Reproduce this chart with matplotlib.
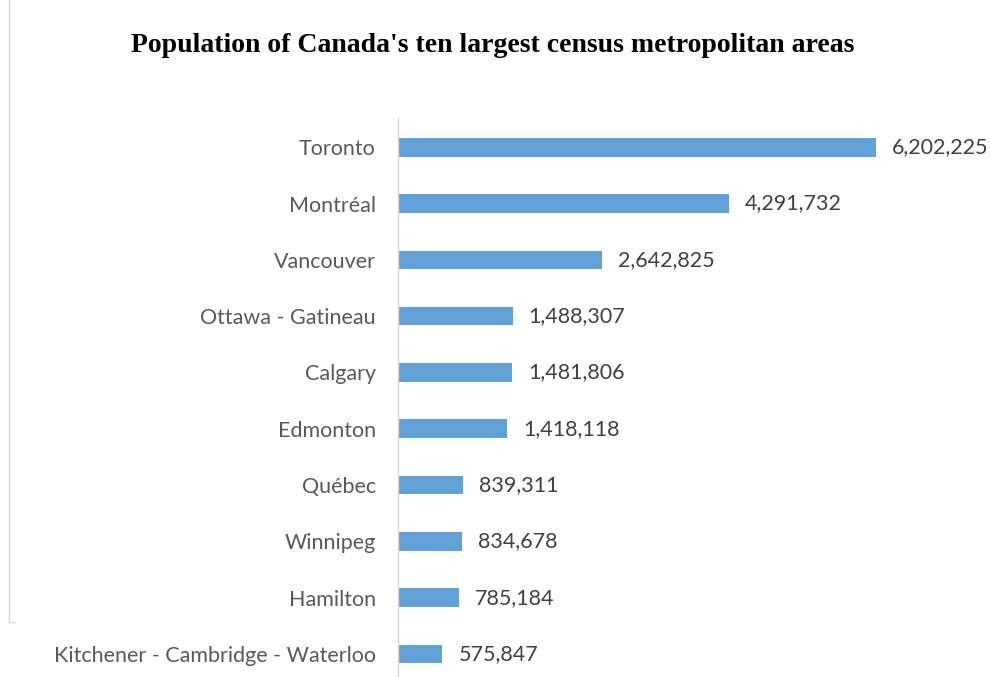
import matplotlib.pyplot as plt
from matplotlib.lines import Line2D

# data
cities = ["Toronto", "Montréal", "Vancouver", "Ottawa - Gatineau", "Calgary",
          "Edmonton", "Québec", "Winnipeg", "Hamilton",
          "Kitchener - Cambridge - Waterloo"]
population = [6202225, 4291732, 2642825, 1488307, 1481806,
              1418118, 839311, 834678, 785184, 575847]

W, H = 990, 677
fig = plt.figure(figsize=(W / 100, H / 100), dpi=100)

# axes placed in pixel terms: axis line at x=398, bars from y=118 down
left, right = 398 / W, 876 / W
top, bottom = 118 / H, 677 / H
ax = fig.add_axes([left, 1 - bottom, right - left, bottom - top])

ypos = list(range(len(cities)))
ax.barh(ypos, population, height=0.33, color="#62A0D8")
ax.set_xlim(0, max(population))
ax.set_ylim(9.41, -0.52)

for y, v in zip(ypos, population):
    ax.annotate(f"{v:,}", (v, y), xytext=(16, 0), textcoords="offset pixels",
                va="center", ha="left", fontsize=15.5, family="Lato",
                color="#404040", clip_on=False)

ax.set_yticks(ypos)
ax.set_yticklabels(cities, fontsize=15.5, family="Lato", color="#595959")
ax.tick_params(axis="y", length=0, pad=16)
ax.set_xticks([])
for s in ["top", "right", "bottom"]:
    ax.spines[s].set_visible(False)
ax.spines["left"].set_color("#D9D9D9")
ax.spines["left"].set_linewidth(1)

fig.text(493 / W, 1 - 45 / H, "Population of Canada's ten largest census metropolitan areas",
         ha="center", va="center", fontsize=20, fontweight="bold",
         family="Liberation Serif", color="black")

# faint outer frame on the left
fig.add_artist(Line2D([9 / W, 9 / W, 15 / W], [1.0, 1 - 622 / H, 1 - 622 / H],
                      transform=fig.transFigure, color="#D9D9D9", lw=1))

fig.savefig("out.png", dpi=100)
